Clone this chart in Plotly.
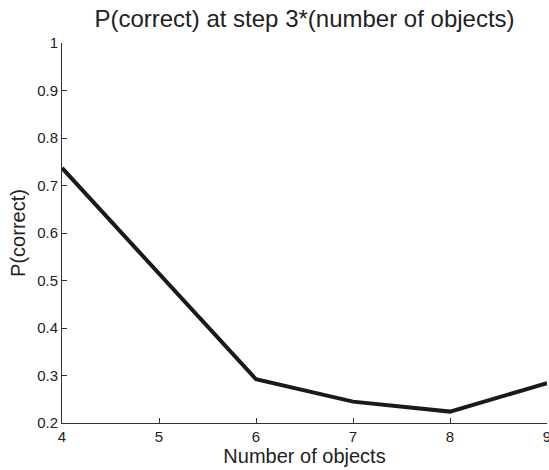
import plotly.graph_objects as go

num_objects = [4, 5, 6, 7, 8, 9]
p_correct = [0.737, 0.515, 0.292, 0.245, 0.224, 0.284]
x_ticks = [4, 5, 6, 7, 8, 9]
y_ticks = [0.2, 0.3, 0.4, 0.5, 0.6, 0.7, 0.8, 0.9, 1]
y_tick_labels = ["0.2", "0.3", "0.4", "0.5", "0.6", "0.7", "0.8", "0.9", "1"]

fig = go.Figure()
fig.add_trace(go.Scatter(x=num_objects, y=p_correct, mode="lines",
                         line=dict(color="#1a1a1a", width=4), cliponaxis=False))

font = "Liberation Sans, Arial, Helvetica, sans-serif"
fig.update_layout(
    width=549, height=470,
    margin=dict(l=62, r=2, t=43, b=47, autoexpand=False),
    paper_bgcolor="white", plot_bgcolor="white",
    showlegend=False,
    font=dict(family=font, color="#222"),
    title=dict(text="P(correct) at step 3*(number of objects)", x=0.5, xref="paper",
               xanchor="center",
               y=0.96, yref="container", yanchor="middle",
               font=dict(size=24, family=font, color="#222")),
    xaxis=dict(range=[4, 9], tickvals=x_ticks, ticks="inside", ticklen=5,
               tickcolor="#333", showline=True, linecolor="#333", linewidth=1,
               showgrid=False, zeroline=False, tickfont=dict(size=15),
               ticklabeloverflow="allow", automargin=False,
               title=dict(text="Number of objects", font=dict(size=20), standoff=2)),
    yaxis=dict(range=[0.2, 1], tickvals=y_ticks, ticktext=y_tick_labels,
               ticks="inside", ticklen=5, tickcolor="#333", showline=True,
               linecolor="#333", linewidth=1, showgrid=False, zeroline=False,
               tickfont=dict(size=15), automargin=False,
               title=dict(text="P(correct)", font=dict(size=20), standoff=6)),
)
fig.write_html("out.html")
